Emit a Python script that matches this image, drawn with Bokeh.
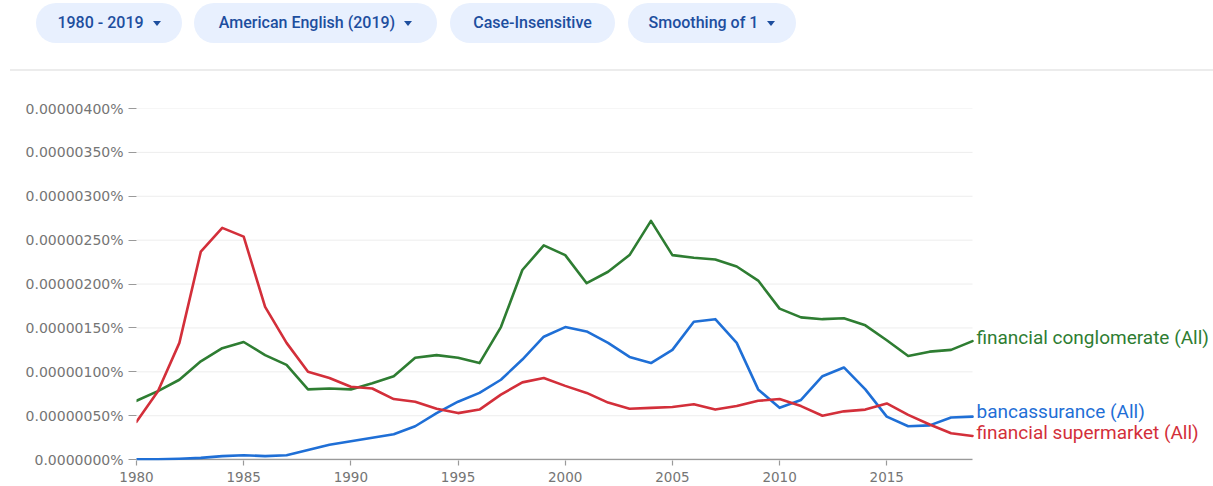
from bokeh.plotting import figure
from bokeh.models import Div, FixedTicker, Range1d, ColumnDataSource
from bokeh.layouts import column
from bokeh.core.properties import value
from bokeh.embed import file_html
from bokeh.resources import INLINE

# ---- data (frequency, in units of 1e-8 percent) ----
years = list(range(1980, 2020))
conglomerate = [67, 78, 91, 112, 127, 134, 119, 108, 80, 81,
                80, 87, 95, 116, 119, 116, 110, 151, 216, 244,
                233, 201, 214, 233, 272, 233, 230, 228, 220, 204,
                172, 162, 160, 161, 153, 136, 118, 123, 125, 135]
bancassurance = [0.5, 0.5, 1, 2, 4, 5, 4, 5, 11, 17,
                 21, 25, 29, 38, 53, 66, 76, 91, 114, 140,
                 151, 146, 133, 117, 110, 125, 157, 160, 133, 80,
                 59, 68, 95, 105, 80, 49, 38, 39, 48, 49]
supermarket = [43, 78, 133, 237, 264, 254, 174, 133, 100, 93,
               83, 81, 69, 66, 58, 53, 57, 74, 88, 93,
               84, 76, 65, 58, 59, 60, 63, 57, 61, 67,
               69, 61, 50, 55, 57, 64, 51, 40, 30, 27]

series_names = ["financial conglomerate (All)", "bancassurance (All)", "financial supermarket (All)"]
series_colors = ["#2e7d32", "#1f6fd6", "#d32f3a"]
label_lifts = [4, 5, 3]

y_ticks = [0, 50, 100, 150, 200, 250, 300, 350, 400]
y_tick_labels = ["0.0000000%", "0.00000050%", "0.00000100%", "0.00000150%", "0.00000200%",
                 "0.00000250%", "0.00000300%", "0.00000350%", "0.00000400%"]
x_ticks = [1980, 1985, 1990, 1995, 2000, 2005, 2010, 2015]

filters = ["1980 - 2019", "American English (2019)", "Case-Insensitive", "Smoothing of 1"]
filter_has_arrow = [True, True, False, True]

# ---- header with filter chips ----
lefts = [31, 189, 445, 623]
widths = [146, 243, 165, 168]
chips = []
for name, arrow, l, w in zip(filters, filter_has_arrow, lefts, widths):
    arrow_html = ('<span style="display:inline-block;width:0;height:0;margin-left:9px;'
                  'border-left:4px solid transparent;border-right:4px solid transparent;'
                  'border-top:5px solid #1d4e9e;"></span>') if arrow else ''
    chips.append(
        f'<div style="position:absolute;left:{l}px;top:-2px;width:{w}px;height:40px;'
        f'border-radius:20px;background:#e8f0fe;display:flex;align-items:center;'
        f'justify-content:center;font-family:Roboto;font-weight:500;font-size:16px;'
        f'color:#1d4e9e;white-space:nowrap;">{name}{arrow_html}</div>')
header_html = ('<div style="position:relative;width:1197px;height:62px;">'
               + ''.join(chips)
               + '<div style="position:absolute;left:5px;top:64px;width:1208px;height:2px;'
                 'background:#ececec;"></div></div>')
header = Div(text=header_html, width=1197, height=62, styles={"overflow": "visible"})

# ---- chart ----
FRAME_LEFT = 136
PX_PER_YEAR = 21.436
FIG_W = 1213
x_end = years[0] + (FIG_W - FRAME_LEFT) / PX_PER_YEAR

p = figure(width=FIG_W, height=414, output_backend="svg", toolbar_location=None,
           x_range=Range1d(years[0], x_end), y_range=Range1d(-1, 400),
           min_border_left=FRAME_LEFT, min_border_right=0, min_border_top=36, min_border_bottom=26)
p.outline_line_color = None
p.background_fill_color = "white"
p.border_fill_color = "white"
p.xgrid.grid_line_color = None
p.ygrid.grid_line_color = None

# horizontal grid lines only across the data span
grid_src = ColumnDataSource(dict(x0=[years[0]] * (len(y_ticks) - 1), x1=[years[-1]] * (len(y_ticks) - 1),
                                 y=y_ticks[1:]))
p.segment(x0="x0", x1="x1", y0="y", y1="y", source=grid_src, line_color="#ededed", line_width=1)
# baseline axis line across the data span
p.segment(x0=[years[0]], x1=[years[-1]], y0=[y_ticks[0]], y1=[y_ticks[0]],
          line_color="#9a9a9a", line_width=1.5)

p.xaxis.ticker = FixedTicker(ticks=x_ticks)
p.xaxis.axis_line_color = None
p.xaxis.major_tick_line_color = "#9a9a9a"
p.xaxis.major_tick_line_width = 1.2
p.xaxis.major_tick_out = 5
p.xaxis.major_tick_in = 0
p.xaxis.minor_tick_line_color = None
p.xaxis.major_label_standoff = 6
p.xaxis.major_label_text_font = "DejaVu Sans"
p.xaxis.major_label_text_font_size = "13.5px"
p.xaxis.major_label_text_color = "#757575"

p.yaxis.ticker = FixedTicker(ticks=y_ticks)
p.yaxis.major_label_overrides = {t: s for t, s in zip(y_ticks, y_tick_labels)}
p.yaxis.axis_line_color = None
p.yaxis.major_tick_line_color = "#9a9a9a"
p.yaxis.major_tick_out = 8
p.yaxis.major_tick_in = 0
p.yaxis.minor_tick_line_color = None
p.yaxis.major_label_standoff = 5
p.yaxis.major_label_text_font = "DejaVu Sans"
p.yaxis.major_label_text_font_size = "14px"
p.yaxis.major_label_text_color = "#757575"

all_series = [conglomerate, bancassurance, supermarket]
for vals, color in zip(all_series, series_colors):
    p.line(years, vals, line_color=color, line_width=2.6, line_join="round", line_cap="round")

label_src = ColumnDataSource(dict(
    x=[years[-1]] * len(all_series),
    y=[vals[-1] for vals in all_series],
    text=series_names,
    color=series_colors,
    dy=[-l for l in label_lifts],
))
p.text(x="x", y="y", text="text", source=label_src, text_color="color", x_offset=4, y_offset="dy",
       text_font=value("Roboto"), text_font_size="19px", text_baseline="middle", text_align="left")

layout = column(header, p, spacing=0)
open("out.html", "w").write(file_html(layout, INLINE))
